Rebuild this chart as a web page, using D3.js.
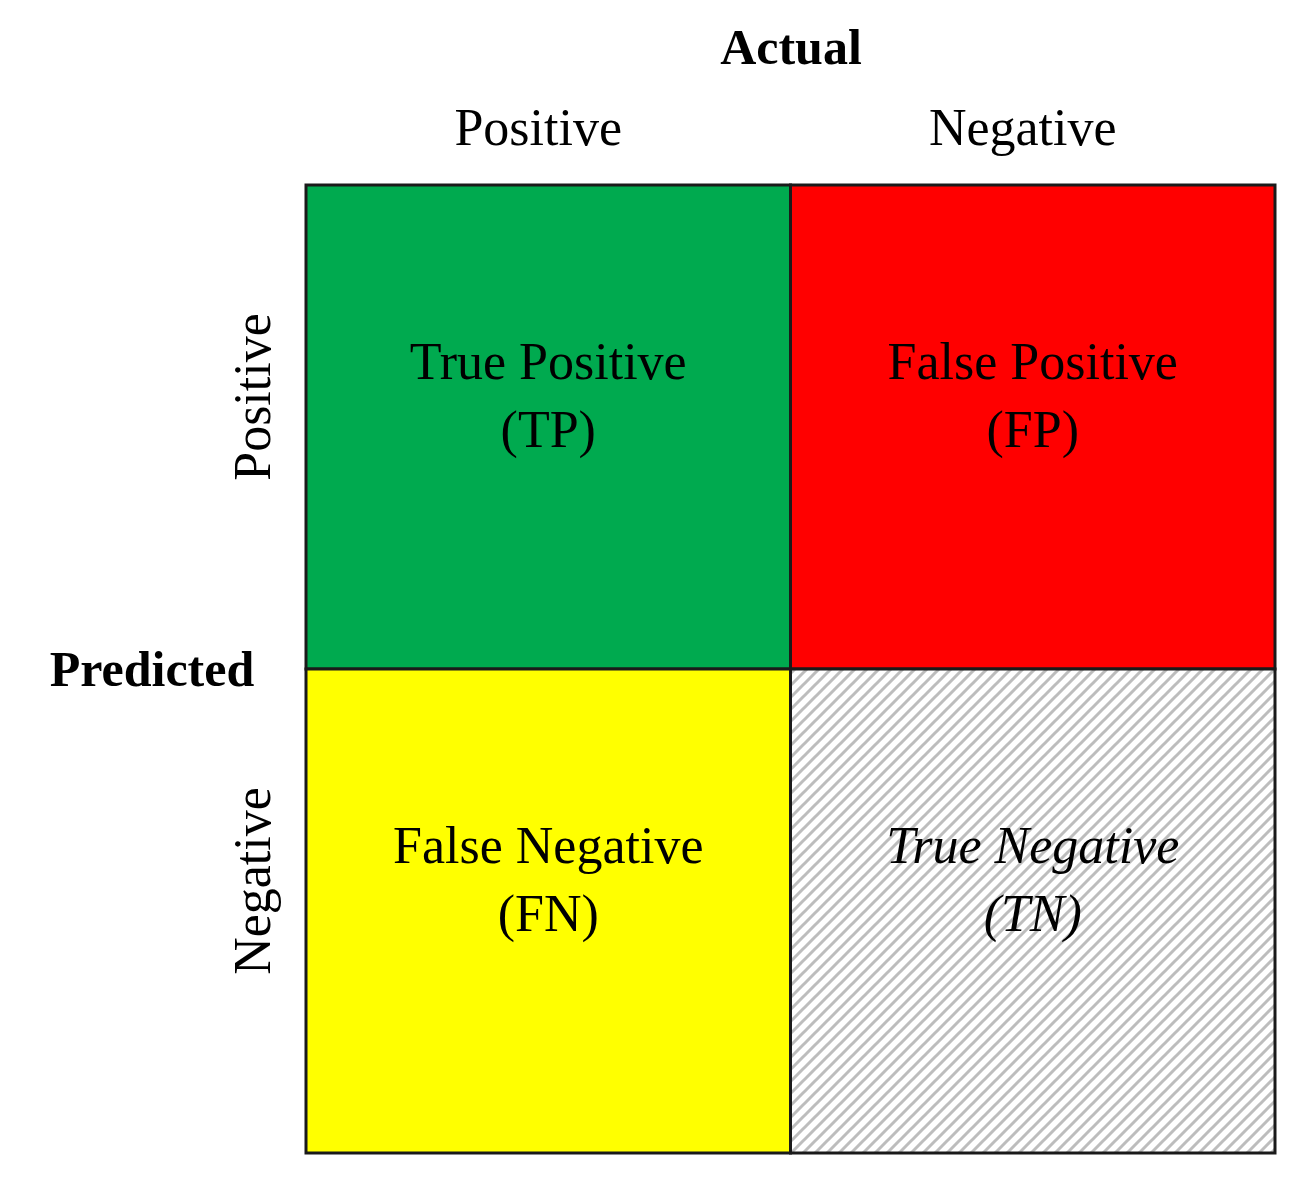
<!DOCTYPE html>
<html><head><meta charset="utf-8">
<script src="https://cdn.jsdelivr.net/npm/d3@7"></script>
<style>body{margin:0;background:#fff}</style>
</head><body>
<svg id="chart" width="1314" height="1196"></svg>
<script>
const actual = ["Positive", "Negative"]
const predicted = ["Positive", "Negative"]
const cells = [
    {a: "Positive", p: "Positive", line1: "True Positive", line2: "(TP)", fill: "#00aa4f", italic: false},
    {a: "Negative", p: "Positive", line1: "False Positive", line2: "(FP)", fill: "#ff0000", italic: false},
    {a: "Positive", p: "Negative", line1: "False Negative", line2: "(FN)", fill: "#ffff00", italic: false},
    {a: "Negative", p: "Negative", line1: "True Negative", line2: "(TN)", fill: "url(#hatch)", italic: true}
]

const svg = d3.select("#chart")
const font = "'Liberation Serif', 'DejaVu Serif', serif"
const x = d3.scaleBand().domain(actual).range([306, 1275])
const y = d3.scaleBand().domain(predicted).range([185, 1153])

const pat = svg.append("defs").append("pattern")
    .attr("id", "hatch").attr("patternUnits", "userSpaceOnUse")
    .attr("width", 12).attr("height", 12)
pat.append("rect").attr("width", 12).attr("height", 12).attr("fill", "#fff")
pat.append("path").attr("d", "M-3,3 L3,-3 M0,12 L12,0 M9,15 L15,9")
    .attr("stroke", "#bdbdbd").attr("stroke-width", 3)

const g = svg.selectAll("g.cell").data(cells).join("g").attr("class", "cell")
g.append("rect")
    .attr("x", d => x(d.a)).attr("y", d => y(d.p))
    .attr("width", x.bandwidth()).attr("height", y.bandwidth())
    .attr("fill", d => d.fill).attr("stroke", "#1a1a1a").attr("stroke-width", 3)
g.append("text")
    .attr("x", d => x(d.a) + x.bandwidth() / 2)
    .attr("y", d => y(d.p) + 194)
    .attr("text-anchor", "middle").attr("font-family", font).attr("font-size", 52)
    .attr("font-style", d => d.italic ? "italic" : "normal")
    .text(d => d.line1)
g.append("text")
    .attr("x", d => x(d.a) + x.bandwidth() / 2)
    .attr("y", d => y(d.p) + 262)
    .attr("text-anchor", "middle").attr("font-family", font).attr("font-size", 52)
    .attr("font-style", d => d.italic ? "italic" : "normal")
    .text(d => d.line2)

svg.append("text").attr("x", 791).attr("y", 64).attr("text-anchor", "middle")
    .attr("font-family", font).attr("font-size", 50).attr("font-weight", "bold").text("Actual")
svg.selectAll("text.act").data(actual).join("text").attr("class", "act")
    .attr("x", d => x(d) + x.bandwidth() / 2 - 10).attr("y", 145)
    .attr("text-anchor", "middle").attr("font-family", font).attr("font-size", 52).text(d => d)
svg.selectAll("text.pred").data(predicted).join("text").attr("class", "pred")
    .attr("transform", d => `translate(270,${y(d) + y.bandwidth() / 2 - 30}) rotate(-90)`)
    .attr("text-anchor", "middle").attr("font-family", font).attr("font-size", 52).text(d => d)
svg.append("text").attr("x", 152).attr("y", 686).attr("text-anchor", "middle")
    .attr("font-family", font).attr("font-size", 50).attr("font-weight", "bold").text("Predicted")
</script>
</body></html>
